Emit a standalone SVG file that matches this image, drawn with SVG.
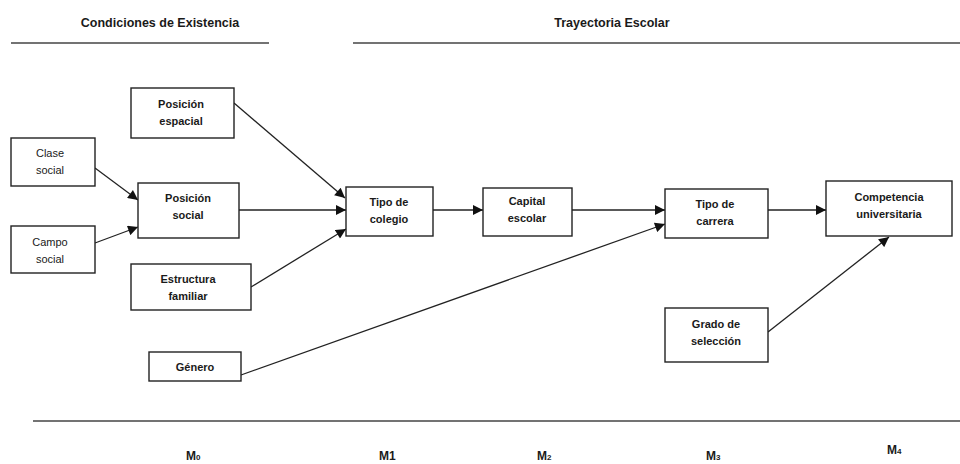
<svg xmlns="http://www.w3.org/2000/svg" width="960" height="464" viewBox="0 0 960 464">
<defs>
<style>
.t{font-family:"Liberation Sans",Arial,sans-serif;font-weight:bold;font-size:11px;fill:#1a1a1a;text-anchor:middle}
.h{font-family:"Liberation Sans",Arial,sans-serif;font-weight:bold;font-size:12.5px;fill:#1a1a1a;text-anchor:middle}
.m{font-family:"Liberation Sans",Arial,sans-serif;font-weight:bold;font-size:12px;fill:#1a1a1a}
.s{font-size:8px}
.b{fill:#fff;stroke:#222;stroke-width:1.4}
.c{stroke:#222;stroke-width:1.3;fill:none;marker-end:url(#a)}
.r{stroke:#444;stroke-width:1.6}
</style>
<marker id="a" viewBox="0 0 10 10" refX="10" refY="5" markerWidth="11" markerHeight="10" markerUnits="userSpaceOnUse" orient="auto">
<path d="M0,0 L10,5 L0,10 z" fill="#111"/>
</marker>
</defs>
<rect width="960" height="464" fill="#fff"/>
<g id="headers">
<text class="h" x="160" y="27">Condiciones de Existencia</text>
<line class="r" x1="11" y1="43" x2="269" y2="43"/>
<text class="h" x="612" y="27">Trayectoria Escolar</text>
<line class="r" x1="353" y1="43" x2="960" y2="43"/>
<line class="r" x1="33" y1="421" x2="960" y2="421"/>
</g>
<g id="connectors">
<line class="c" x1="234" y1="103" x2="345" y2="198"/>
<line class="c" x1="95" y1="168" x2="138" y2="200"/>
<line class="c" x1="95" y1="243" x2="138" y2="227"/>
<line class="c" x1="239" y1="210" x2="346" y2="210"/>
<line class="c" x1="251" y1="287" x2="346" y2="229"/>
<line class="c" x1="433" y1="210" x2="483" y2="210"/>
<line class="c" x1="572" y1="210" x2="665" y2="210"/>
<line class="c" x1="241" y1="375" x2="665" y2="224"/>
<line class="c" x1="768" y1="210" x2="826" y2="210"/>
<line class="c" x1="768" y1="332" x2="889" y2="237"/>
</g>
<g id="posicion-espacial"><rect class="b" x="131" y="88" width="103" height="50"/><text class="t" x="181" y="108">Posición</text><text class="t" x="181" y="125">espacial</text></g>
<g id="clase-social"><rect class="b" x="11" y="138" width="84" height="48"/><text class="t" x="50" y="157" style="font-weight:normal">Clase</text><text class="t" x="50" y="174" style="font-weight:normal">social</text></g>
<g id="campo-social"><rect class="b" x="11" y="226" width="84" height="47"/><text class="t" x="50" y="246" style="font-weight:normal">Campo</text><text class="t" x="50" y="263" style="font-weight:normal">social</text></g>
<g id="posicion-social"><rect class="b" x="138" y="183" width="101" height="55"/><text class="t" x="188" y="202">Posición</text><text class="t" x="188" y="219">social</text></g>
<g id="estructura-familiar"><rect class="b" x="131" y="264" width="120" height="46"/><text class="t" x="188" y="283">Estructura</text><text class="t" x="188" y="300">familiar</text></g>
<g id="genero"><rect class="b" x="149" y="352" width="92" height="29"/><text class="t" x="195" y="371">Género</text></g>
<g id="tipo-colegio"><rect class="b" x="346" y="187" width="87" height="49"/><text class="t" x="389" y="206">Tipo de</text><text class="t" x="389" y="223">colegio</text></g>
<g id="capital-escolar"><rect class="b" x="483" y="188" width="89" height="48"/><text class="t" x="527" y="205">Capital</text><text class="t" x="527" y="222">escolar</text></g>
<g id="tipo-carrera"><rect class="b" x="665" y="189" width="103" height="49"/><text class="t" x="715" y="208">Tipo de</text><text class="t" x="715" y="225">carrera</text></g>
<g id="competencia"><rect class="b" x="826" y="181" width="126" height="55"/><text class="t" x="889" y="201">Competencia</text><text class="t" x="889" y="218">universitaria</text></g>
<g id="grado-seleccion"><rect class="b" x="665" y="308" width="103" height="54"/><text class="t" x="716" y="328">Grado de</text><text class="t" x="716" y="345">selección</text></g>
<g id="m-labels">
<text class="m" x="186" y="460">M<tspan class="s">0</tspan></text>
<text class="m" x="379" y="460">M1</text>
<text class="m" x="537" y="460">M<tspan class="s">2</tspan></text>
<text class="m" x="706" y="460">M<tspan class="s">3</tspan></text>
<text class="m" x="887" y="454">M<tspan class="s">4</tspan></text>
</g>
</svg>
